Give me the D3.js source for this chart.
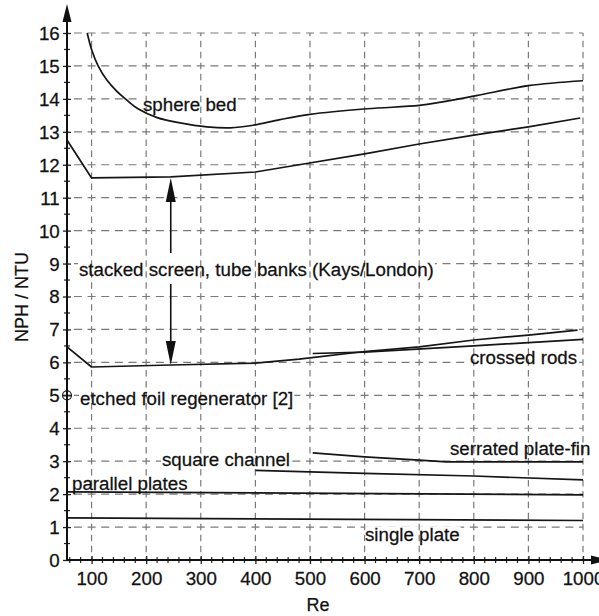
<!DOCTYPE html>
<html>
<head>
<meta charset="utf-8">
<script src="https://cdn.jsdelivr.net/npm/d3@7"></script>
<style>
  body { margin: 0; background: #fff; }
  text { font-family: "Liberation Sans", Arial, Helvetica, sans-serif; fill: #111; stroke: #111; stroke-width: 0.25px; }
</style>
</head>
<body>
<script>
width = 599
height = 616

// tick labels
const xTickLabels = [100, 200, 300, 400, 500, 600, 700, 800, 900, 1000];
const yTickLabels = [0, 1, 2, 3, 4, 5, 6, 7, 8, 9, 10, 11, 12, 13, 14, 15, 16];

// series (Re, NPH/NTU)
const sphereRe  = [92, 100, 112, 128, 145, 164, 185, 220, 262, 311, 354, 396, 445, 500, 605, 700, 740, 805, 900, 1000];
const sphereNph = [16, 15.5, 15.0, 14.57, 14.25, 13.97, 13.7, 13.43, 13.27, 13.15, 13.12, 13.2, 13.37, 13.53, 13.7, 13.8, 13.9, 14.1, 14.4, 14.55];

const screenHighRe  = [55, 100, 245, 400, 480, 600, 700, 800, 900, 995];
const screenHighNph = [12.75, 11.6, 11.63, 11.78, 12.0, 12.33, 12.63, 12.9, 13.15, 13.42];

const screenLowRe  = [55, 100, 245, 400, 480, 600, 700, 800, 900, 990];
const screenLowNph = [6.47, 5.86, 5.92, 5.98, 6.1, 6.33, 6.47, 6.68, 6.83, 6.98];

const crossedRe  = [505, 600, 800, 1000];
const crossedNph = [6.27, 6.31, 6.5, 6.7];

const serratedRe  = [505, 600, 700, 750, 1000];
const serratedNph = [3.25, 3.13, 3.03, 2.98, 2.98];

const squareRe  = [400, 600, 800, 1000];
const squareNph = [2.72, 2.63, 2.55, 2.43];

const parallelRe  = [55, 1000];
const parallelNph = [2.07, 1.98];

const singleRe  = [55, 1000];
const singleNph = [1.28, 1.2];

const etchedRe  = [55];
const etchedNph = [5];

// double arrow between the two screen curves
const arrowRe = 245;
const arrowUpNph = [9.32, 11.6];
const arrowDownNph = [8.38, 5.92];

const labelText = ["sphere bed", "stacked screen, tube banks (Kays/London)", "etched foil regenerator [2]",
                   "crossed rods", "serrated plate-fin", "square channel", "parallel plates", "single plate"];
// left x / baseline of each label, in pixels
const labelPos = [[143, 111], [79, 276], [80, 405], [470, 364], [450, 455], [162, 466], [72, 490], [365, 541]];

const x = d3.scaleLinear().domain([55, 1000]).range([67, 583]);
const y = d3.scaleLinear().domain([0, 16]).range([560, 33]);
const x0 = x.range()[0], y0 = y.range()[0];
const sx = 1.04; // text is a bit wide in the reference

const svg = d3.select("body").append("svg")
    .attr("width", width)
    .attr("height", height);

svg.append("rect").attr("width", width).attr("height", height).attr("fill", "#fff");

const gH = svg.append("g");
const gBg = svg.append("g");
const gV = svg.append("g");
const gLines = svg.append("g");
const gAxis = svg.append("g");
const gText = svg.append("g");

// horizontal grid, dashes centred on the vertical grid lines
const hP = (x(200) - x(100)) / 4;
const hOff = (((4 - (x(100) - x0)) % hP) + hP) % hP;
gH.selectAll("line")
  .data(yTickLabels.filter(d => d > 0))
  .join("line")
    .attr("x1", x0).attr("x2", x(1000))
    .attr("y1", d => y(d)).attr("y2", d => y(d))
    .attr("stroke", "#7a7a7a")
    .attr("stroke-width", 1.2)
    .attr("stroke-dasharray", `8 ${hP - 8}`)
    .attr("stroke-dashoffset", hOff);

// labels first so the background boxes can be measured
const lab = gText.selectAll("g")
  .data(labelText)
  .join("g")
    .attr("transform", (d, i) => `translate(${labelPos[i][0]},${labelPos[i][1]}) scale(${sx},1)`);
lab.append("text")
    .attr("font-size", 18)
    .text(d => d);

lab.each(function(d, i) {
  const b = this.querySelector("text").getBBox();
  gBg.append("rect")
    .attr("transform", `translate(${labelPos[i][0]},${labelPos[i][1]}) scale(${sx},1)`)
    .attr("x", b.x - 1).attr("y", b.y + 2)
    .attr("width", b.width + 2).attr("height", b.height - 3)
    .attr("fill", "#fff");
});

// vertical grid
const vP = (y(0) - y(1)) / 3;
gV.selectAll("line")
  .data(xTickLabels)
  .join("line")
    .attr("x1", d => x(d)).attr("x2", d => x(d))
    .attr("y1", y(16)).attr("y2", y0)
    .attr("stroke", "#7a7a7a")
    .attr("stroke-width", 1.2)
    .attr("stroke-dasharray", `6.5 ${vP - 6.5}`)
    .attr("stroke-dashoffset", 3.25);

// curves: the sphere bed is smooth, the rest are drawn straight between points
const smooth = d3.line()
    .x(d => x(d[0]))
    .y(d => y(d[1]))
    .curve(d3.curveCatmullRom.alpha(0.5));
const straight = d3.line()
    .x(d => x(d[0]))
    .y(d => y(d[1]));

const series = [
  [sphereRe, sphereNph, smooth],
  [screenHighRe, screenHighNph, straight],
  [screenLowRe, screenLowNph, straight],
  [crossedRe, crossedNph, straight],
  [serratedRe, serratedNph, straight],
  [squareRe, squareNph, straight],
  [parallelRe, parallelNph, straight],
  [singleRe, singleNph, straight]
];

gLines.selectAll("path.curve")
  .data(series)
  .join("path")
    .attr("class", "curve")
    .attr("d", s => s[2](d3.zip(s[0], s[1])))
    .attr("fill", "none")
    .attr("stroke", "#151515")
    .attr("stroke-width", 1.7)
    .attr("stroke-linejoin", "round");

// etched foil point
const ef = gLines.append("g")
    .attr("transform", `translate(${x(etchedRe[0])},${y(etchedNph[0])})`);
ef.append("circle").attr("r", 4.5).attr("fill", "none").attr("stroke", "#222").attr("stroke-width", 1.2);
ef.append("line").attr("x1", -4.5).attr("x2", 4.5).attr("stroke", "#222").attr("stroke-width", 1.2);

// double arrow
function arrow(from, to) {
  const xa = x(arrowRe), ya = y(from), yb = y(to);
  const dir = yb < ya ? 1 : -1;
  gLines.append("line")
    .attr("x1", xa).attr("x2", xa)
    .attr("y1", ya).attr("y2", yb + dir * 20)
    .attr("stroke", "#111").attr("stroke-width", 1.6);
  gLines.append("path")
    .attr("d", `M${xa},${yb} L${xa - 5},${yb + dir * 24} L${xa + 5},${yb + dir * 24} Z`)
    .attr("fill", "#111");
}
arrow(arrowUpNph[0], arrowUpNph[1]);
arrow(arrowDownNph[0], arrowDownNph[1]);

// axes
const yAxis = gAxis.append("g")
    .attr("transform", `translate(${x0},0)`)
    .call(d3.axisLeft(y).tickValues(yTickLabels).tickSize(4).tickPadding(3).tickSizeOuter(0));
yAxis.select(".domain").remove();
yAxis.selectAll(".tick line").attr("x2", 4).attr("x1", -4).attr("stroke", "#222").attr("stroke-width", 1.3);
yAxis.selectAll(".tick text")
    .attr("font-size", 18)
    .attr("fill", "#111")
    .attr("dy", "0.36em")
    .attr("transform", `scale(${sx},1)`);

const xAxis = gAxis.append("g")
    .attr("transform", `translate(0,${y0})`)
    .call(d3.axisBottom(x).tickValues(xTickLabels).tickFormat(d3.format("d"))
      .tickSize(4).tickPadding(8).tickSizeOuter(0));
xAxis.select(".domain").remove();
xAxis.selectAll(".tick line").attr("y1", -4).attr("y2", 4).attr("stroke", "#222").attr("stroke-width", 1.3);
xAxis.selectAll(".tick text")
    .attr("font-size", 18)
    .attr("fill", "#111")
    .attr("transform", `scale(${sx},1)`);

// minor ticks
gAxis.selectAll("line.ymin")
  .data(d3.range(0.5, 16, 1))
  .join("line")
    .attr("class", "ymin")
    .attr("x1", x0 - 3).attr("x2", x0 + 3)
    .attr("y1", d => y(d)).attr("y2", d => y(d))
    .attr("stroke", "#222").attr("stroke-width", 1.2);

gAxis.selectAll("line.xmin")
  .data(d3.range(60, 1000, 20).filter(d => d % 100 !== 0))
  .join("line")
    .attr("class", "xmin")
    .attr("x1", d => x(d)).attr("x2", d => x(d))
    .attr("y1", y0 - 3).attr("y2", y0 + 3)
    .attr("stroke", "#222").attr("stroke-width", 1.2);

// axis lines with arrow heads
gAxis.append("line")
    .attr("x1", x0).attr("x2", x0).attr("y1", y0).attr("y2", 18)
    .attr("stroke", "#111").attr("stroke-width", 2);
gAxis.append("path")
    .attr("d", `M${x0},4 L${x0 - 4.5},22 L${x0 + 4.5},22 Z`)
    .attr("fill", "#111");

gAxis.append("line")
    .attr("x1", x0).attr("x2", 595).attr("y1", y0).attr("y2", y0)
    .attr("stroke", "#111").attr("stroke-width", 2);
gAxis.append("path")
    .attr("d", `M${609},${y0} L${591},${y0 - 4.5} L${591},${y0 + 4.5} Z`)
    .attr("fill", "#111");

// axis titles
gText.append("text")
    .attr("transform", "translate(28,297) rotate(-90)")
    .attr("text-anchor", "middle")
    .attr("font-size", 18)
    .text("NPH / NTU");

gText.append("text")
    .attr("x", 318).attr("y", 611)
    .attr("text-anchor", "middle")
    .attr("font-size", 18)
    .text("Re");
</script>
</body>
</html>
